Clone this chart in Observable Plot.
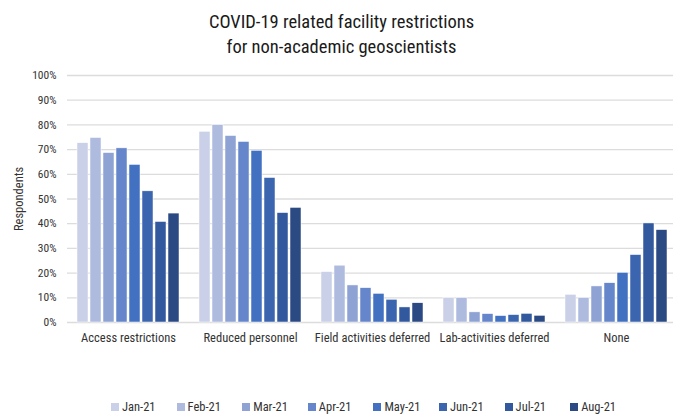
<!DOCTYPE html>
<html>
<head>
<meta charset="utf-8">
<script src="https://cdn.jsdelivr.net/npm/d3@7"></script>
<script src="https://cdn.jsdelivr.net/npm/@observablehq/plot@0.6"></script>
<style>
  html, body { margin: 0; padding: 0; background: #fff; }
  body { width: 673px; height: 414px; overflow: hidden; font-family: "Roboto Condensed", "Liberation Sans Narrow", Roboto, sans-serif; color: #222; }
  #title { height: 60px; box-sizing: border-box; padding-top: 10px; padding-left: 10px; text-align: center; font-size: 18.5px; line-height: 25px; color: #1a1a1a; }
  #chart svg { overflow: visible; }
  #legend { position: relative; height: 15px; font-size: 12.5px; color: #333; }
  .item { position: absolute; top: 0; display: flex; align-items: center; white-space: nowrap; }
  .sw { width: 8px; height: 8px; margin-right: 3px; }
</style>
</head>
<body>
<div id="title">COVID-19 related facility restrictions<br>for non-academic geoscientists</div>
<div id="chart"></div>
<div id="legend"></div>
<script>
const months = ["Jan-21", "Feb-21", "Mar-21", "Apr-21", "May-21", "Jun-21", "Jul-21", "Aug-21"];
const categories = ["Access restrictions", "Reduced personnel", "Field activities deferred", "Lab-activities deferred", "None"];
const accessRestrictions = [72.6, 74.7, 68.6, 70.5, 63.8, 53.1, 40.7, 44.1];
const reducedPersonnel = [77.2, 79.9, 75.5, 73.1, 69.5, 58.5, 44.3, 46.4];
const fieldDeferred = [20.4, 23.0, 15.0, 13.9, 11.6, 9.2, 6.1, 7.8];
const labDeferred = [9.9, 9.9, 4.1, 3.4, 2.6, 3.0, 3.5, 2.7];
const none = [11.2, 9.9, 14.6, 15.9, 20.1, 27.3, 40.1, 37.4];
const yTicks = [0, 10, 20, 30, 40, 50, 60, 70, 80, 90, 100];
const colors = ["#c9d0e8", "#aebbdf", "#8fa2d4", "#6686cb", "#4371c2", "#3b65ae", "#32589e", "#2b4a84"];

const seriesByCategory = [accessRestrictions, reducedPersonnel, fieldDeferred, labDeferred, none];
const data = [];
categories.forEach((c, i) => months.forEach((m, j) => data.push({category: c, month: m, value: seriesByCategory[i][j]})));

const font = getComputedStyle(document.body).fontFamily;
const chart = Plot.plot({
  width: 673,
  height: 339,
  marginTop: 15,
  marginLeft: 66,
  marginRight: -5,
  marginBottom: 77,
  style: {fontFamily: font, fontSize: "12px", color: "#333", background: "transparent", overflow: "visible"},
  fx: {domain: categories, padding: 0, label: null},
  x: {domain: months, paddingInner: 0.13, paddingOuter: 0.465, axis: null},
  y: {domain: [0, 100], label: "Respondents"},
  color: {domain: months, range: colors},
  marks: [
    Plot.ruleY(yTicks, {stroke: "#dcdcdc", strokeWidth: 1.3}),
    Plot.barY(data, {fx: "category", x: "month", y: "value", fill: "month", stroke: "#fff", strokeWidth: 0.5}),
    Plot.axisY({ticks: yTicks, tickSize: 0, tickPadding: 11, tickFormat: d => d + "%", label: null, fontSize: 11.5}),
    Plot.axisY({ticks: [], tickSize: 0, label: "Respondents", labelArrow: "none", labelAnchor: "center", labelOffset: 53, fontSize: 12.5, dy: -5}),
    Plot.axisFx({anchor: "bottom", tickSize: 0, tickPadding: 11, label: null, fontSize: 12.5})
  ]
});
document.getElementById("chart").appendChild(chart);

const legend = d3.select("#legend");
months.forEach((m, i) => {
  const it = legend.append("div").attr("class", "item").style("left", (111 + i * 65.6) + "px");
  it.append("div").attr("class", "sw").style("background", colors[i]);
  it.append("span").text(m);
});
</script>
</body>
</html>
